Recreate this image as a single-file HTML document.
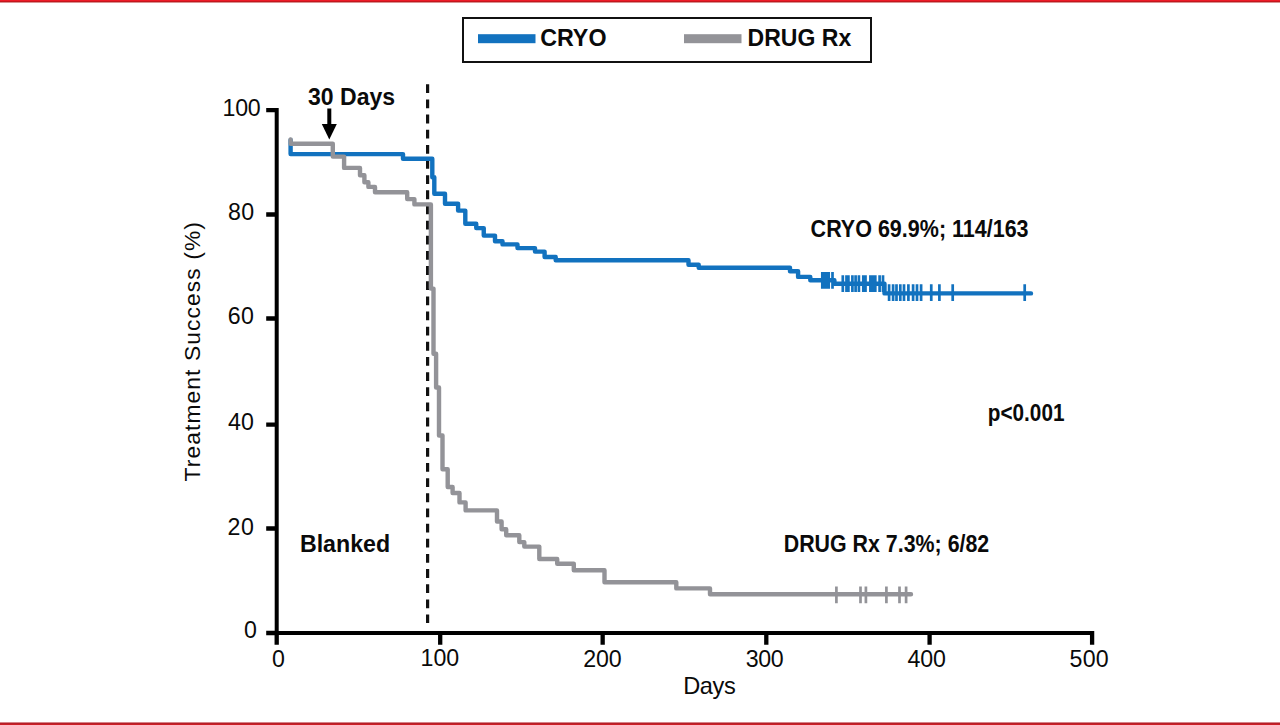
<!DOCTYPE html>
<html><head><meta charset="utf-8"><style>
html,body{margin:0;padding:0;background:#fff;width:1280px;height:725px;overflow:hidden}
svg{display:block}
text{font-family:"Liberation Sans",sans-serif;fill:#0a0a0a}
.b{font-weight:bold}
</style></head><body>
<svg width="1280" height="725" viewBox="0 0 1280 725">
<rect x="0" y="0" width="1280" height="725" fill="#fff"/>
<rect x="0" y="0" width="1280" height="1" fill="#ed1c27"/>
<rect x="0" y="1" width="1280" height="1" fill="#c4161c"/>
<rect x="0" y="2" width="1280" height="0.55" fill="#b83a3a"/>
<rect x="0" y="722.45" width="1280" height="0.55" fill="#b51f28"/>
<rect x="0" y="723" width="1280" height="1" fill="#b51f28"/>
<rect x="0" y="724" width="1280" height="1" fill="#cc1f26"/>
<rect x="463" y="18" width="408" height="44" fill="none" stroke="#111" stroke-width="2"/>
<rect x="478" y="34.2" width="57.5" height="9" fill="#1272bf"/>
<rect x="684" y="34.2" width="57.5" height="9" fill="#939398"/>
<path d="M276.7 107.9V635M274.7 633H1094" stroke="#000" stroke-width="4" fill="none"/>
<path d="M266.2 110.1H278M266.2 214.5H278M266.2 318.5H278M266.2 424.6H278M266.2 528.5H278M266.2 633H278" stroke="#000" stroke-width="4.3" fill="none"/>
<path d="M276.7 631V644.7M440.2 631V644.7M602.66 631V644.7M766.3 631V644.7M929.6 631V644.7M1092.1 631V644.7" stroke="#000" stroke-width="4.3" fill="none"/>
<path d="M427.6 84.3V623" stroke="#111" stroke-width="3.2" stroke-dasharray="8.8 6.35" fill="none"/>
<path d="M329.3 108.5V126" stroke="#000" stroke-width="4" fill="none"/>
<path d="M321.8 124L336.8 124L329.3 139.5Z" fill="#000"/>
<path d="M290.6 140 V154.1 H403 V158.7 H432.3 V177.3 H434.3 V193.8 H445 V203.75 H458.1 V210.6 H465.3 V223.75 H476.25 V228.1 H483.75 V235.6 H495 V241.25 H502.5 V244.4 H517.5 V248.1 H535 V251.6 H544.6 V257 H555.7 V260.3 H688.5 V264.7 H698.7 V267.8 H790 V271.25 H798.1 V276.9 H810.3 V280.2 H834.4 V283.8 H884.5 V293.4 H1031" stroke="#1272bf" stroke-width="4.4" fill="none" stroke-linejoin="round" stroke-linecap="round"/>
<path d="M822.3 272.0V288.8M823.9 272.0V288.8M825.5 272.0V288.8M827.1 272.0V288.8M828.7 272.0V288.8M832.5 272.0V288.8M842.8 275.3V292.1M846.5 275.3V292.1M848.4 275.3V292.1M852.4 275.3V292.1M855.6 275.3V292.1M858.9 275.3V292.1M863.3 275.3V292.1M865.5 275.3V292.1M870.4 275.3V292.1M872.8 275.3V292.1M875.3 275.3V292.1M879.6 275.3V292.1M883.0 275.3V292.1M889.1 284.2V301.0M893.1 284.2V301.0M896.5 284.2V301.0M900.3 284.2V301.0M904.0 284.2V301.0M908.4 284.2V301.0M913.1 284.2V301.0M917 284.2V301.0M921.1 284.2V301.0M931.25 284.2V301.0M939.4 284.2V301.0M952.7 284.2V301.0M1024.7 284.2V301.0" stroke="#1272bf" stroke-width="2.7" fill="none"/>
<path d="M290.6 139.5 V143.75 H332.8 V156.6 H344.1 V167.9 H360 V175.3 H364.4 V182.2 H368.4 V186.9 H375 V192.2 H407.2 V199.1 H414.4 V204.4 H430.9 V288.6 H433.5 V353.8 H436.1 V387.5 H439 V435.5 H442.5 V469.3 H447.7 V487 H452.6 V493 H459.5 V502.4 H465.6 V510.4 H497 V521.5 H501.6 V529.3 H506.2 V535.2 H519.3 V542.1 H524.3 V546.6 H539.3 V559 H557.2 V563.8 H573.8 V570.3 H604.5 V582.2 H676.3 V588.4 H710 V594.2 H911" stroke="#939398" stroke-width="4.4" fill="none" stroke-linejoin="round" stroke-linecap="round"/>
<path d="M836.4 586.5V603.3M860.5 586.5V603.3M865.9 586.5V603.3M886.4 586.5V603.3M899.5 586.5V603.3M906.1 586.5V603.3" stroke="#939398" stroke-width="2.7" fill="none"/>
<text class="b" x="540.15" y="46.0" font-size="23.6" textLength="66.33" lengthAdjust="spacingAndGlyphs">CRYO</text>
<text class="b" x="747.62" y="45.9" font-size="23.6" textLength="103.57" lengthAdjust="spacingAndGlyphs">DRUG Rx</text>
<text x="222.53" y="116.2" font-size="23.2" textLength="38.19" lengthAdjust="spacing">100</text>
<text x="228.11" y="219.5" font-size="23.2" textLength="26.14" lengthAdjust="spacing">80</text>
<text x="227.68" y="324.3" font-size="23.2" textLength="26.3" lengthAdjust="spacing">60</text>
<text x="227.91" y="430.1" font-size="23.2" textLength="25.97" lengthAdjust="spacing">40</text>
<text x="227.62" y="534.8" font-size="23.2" textLength="26.25" lengthAdjust="spacing">20</text>
<text x="243.88" y="638.4" font-size="23.2" textLength="5.07" lengthAdjust="spacing">0</text>
<text x="272.03" y="666.5" font-size="23.2" textLength="4.68" lengthAdjust="spacing">0</text>
<text x="420.62" y="666.4" font-size="23.2" textLength="38.64" lengthAdjust="spacing">100</text>
<text x="583.21" y="666.9" font-size="23.2" textLength="38.41" lengthAdjust="spacing">200</text>
<text x="745.68" y="666.5" font-size="23.2" textLength="38.08" lengthAdjust="spacing">300</text>
<text x="907.55" y="666.5" font-size="23.2" textLength="38.37" lengthAdjust="spacing">400</text>
<text x="1069.62" y="666.5" font-size="23.2" textLength="38.93" lengthAdjust="spacing">500</text>
<text x="683.23" y="693.9" font-size="23.6" textLength="52.55" lengthAdjust="spacing">Days</text>
<text transform="translate(199.74,481.46) rotate(-90)" font-size="22.8" textLength="259.32" lengthAdjust="spacing">Treatment Success (%)</text>
<text class="b" x="308.0" y="104.7" font-size="23.4" textLength="87.09" lengthAdjust="spacingAndGlyphs">30 Days</text>
<text class="b" x="810.61" y="236.9" font-size="23.5" textLength="217.96" lengthAdjust="spacingAndGlyphs">CRYO 69.9%; 114/163</text>
<text class="b" x="987.79" y="420.8" font-size="23.5" textLength="76.66" lengthAdjust="spacingAndGlyphs">p&lt;0.001</text>
<text class="b" x="299.93" y="551.8" font-size="23.2" textLength="90.21" lengthAdjust="spacingAndGlyphs">Blanked</text>
<text class="b" x="783.73" y="551.9" font-size="23.5" textLength="205.53" lengthAdjust="spacingAndGlyphs">DRUG Rx 7.3%; 6/82</text>
</svg>
</body></html>
